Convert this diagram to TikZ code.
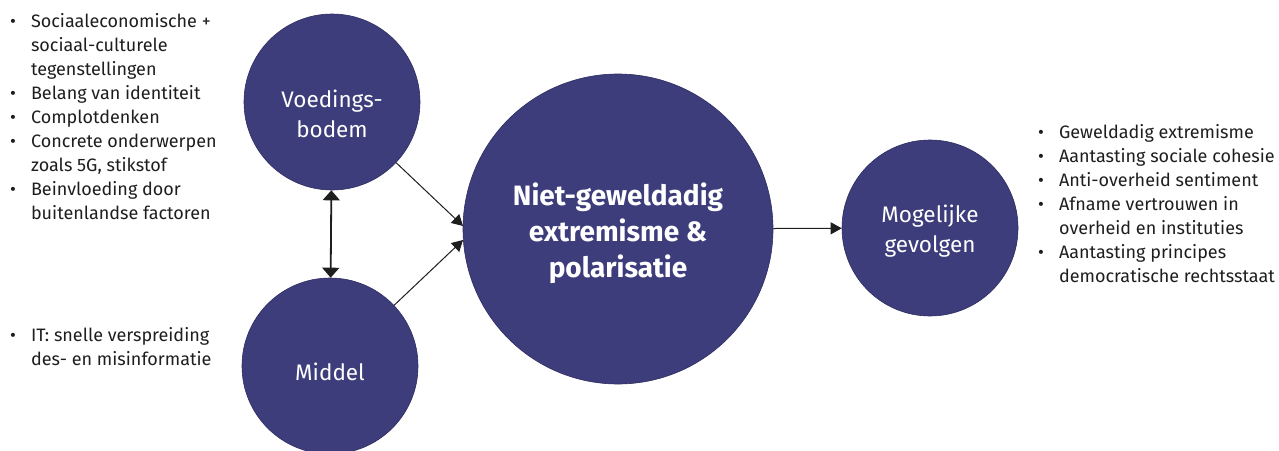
\documentclass[tikz,border=0pt]{standalone}
\usepackage{fontspec}
\setmainfont{Fira Sans}
\usetikzlibrary{arrows.meta,calc}
\definecolor{navy}{RGB}{62,61,124}
\definecolor{navyedge}{RGB}{45,44,95}
\definecolor{ink}{RGB}{30,30,30}
% first baseline of the text sits #1 above the node centre
\newcommand{\ctext}[2]{\raisebox{#1}[0pt][0pt]{\begin{tabular}[t]{@{}c@{}}#2\end{tabular}}}
\newcommand{\bul}{\textbullet}
\begin{document}
\begin{tikzpicture}[x=1pt,y=-1pt,
  circ/.style={circle,fill=navy,draw=navyedge,line width=0.6pt,inner sep=0pt,text=white,align=center},
  smallc/.style={circ,minimum size=176pt,font=\fontsize{22.5}{30}\selectfont},
  bigc/.style={circ,minimum size=310pt,font=\bfseries\fontsize{28}{36}\selectfont},
  conn/.style={draw=ink,line width=1pt,-{Triangle[width=12pt,length=11pt]}},
  dbl/.style={draw=ink,line width=1.8pt,{Triangle[width=17pt,length=10pt]}-{Triangle[width=17pt,length=10pt]}},
  lst/.style={anchor=base west,inner sep=0pt,text=ink,font=\fontsize{18}{24}\selectfont}]
\useasboundingbox (0,0) rectangle (1279,450);

\node[smallc] (V) at (332,102) {\ctext{-5pt}{Voedings-\\bodem}};
\node[smallc] (Mi) at (330,366) {\ctext{-14pt}{Middel}};
\node[bigc] (B) at (618,229) {\ctext{24pt}{Niet-geweldadig\\extremisme \&\\polarisatie}};
\node[smallc] (M) at (930,228) {\ctext{6pt}{Mogelijke\\gevolgen}};

\coordinate (t1) at (463,226);
\coordinate (t2) at (463,240);
\draw[conn] (V) -- (t1);
\draw[conn] (Mi) -- (t2);
\draw[dbl] (V) -- (Mi);
\draw[conn] (B) -- (M);

\node[lst] (L1) at (10,27) {\begin{tabular}[t]{@{}l@{\hspace{15pt}}l@{}}
\bul & Sociaaleconomische +\\
 & sociaal-culturele\\
 & tegenstellingen\\
\bul & Belang van identiteit\\
\bul & Complotdenken\\
\bul & Concrete onderwerpen\\
 & zoals 5G, stikstof\\
\bul & Beinvloeding door\\
 & buitenlandse factoren
\end{tabular}};

\node[lst] (L2) at (10,341) {\begin{tabular}[t]{@{}l@{\hspace{15pt}}l@{}}
\bul & IT: snelle verspreiding\\
 & des- en misinformatie
\end{tabular}};

\node[lst] (R1) at (1038,138) {\begin{tabular}[t]{@{}l@{\hspace{15pt}}l@{}}
\bul & Geweldadig extremisme\\
\bul & Aantasting sociale cohesie\\
\bul & Anti-overheid sentiment\\
\bul & Afname vertrouwen in\\
 & overheid en instituties\\
\bul & Aantasting principes\\
 & democratische rechtsstaat
\end{tabular}};
\end{tikzpicture}
\end{document}
